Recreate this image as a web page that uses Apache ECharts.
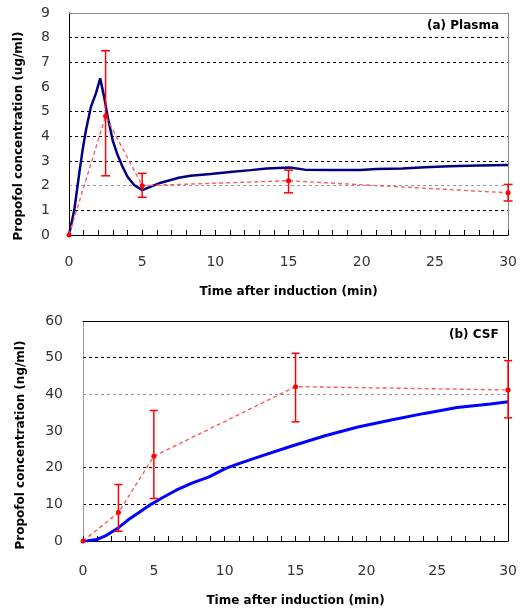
<!DOCTYPE html>
<html>
<head>
<meta charset="utf-8">
<script src="https://cdn.jsdelivr.net/npm/echarts@6/dist/echarts.min.js"></script>
<style>
html,body{margin:0;padding:0;background:#fff;}
#chart{width:520px;height:609px;}
</style>
</head>
<body>
<div id="chart"></div>
<script>
// ---- Data ----
var xTicks = [0, 5, 10, 15, 20, 25, 30];
var plasmaYTicks = [0,1,2,3,4,5,6,7,8,9];
var csfYTicks = [0,10,20,30,40,50,60];

var obsTime = [0, 2.5, 5, 15, 30];
var plasmaMean = [0, 4.82, 2.0, 2.2, 1.71];
var plasmaLow  = [null, 2.40, 1.53, 1.71, 1.38];
var plasmaHigh = [null, 7.47, 2.50, 2.63, 2.05];

var plasmaModelTime = [0, 0.36, 0.7, 0.93, 1.16, 1.5, 1.84, 2.13, 2.4, 2.64, 2.98, 3.32, 3.66, 4.0, 4.45, 5.0, 5.6, 6.27, 6.95, 7.5, 8.3, 9.67, 11.0, 12.4, 13.5, 15.1, 16.1, 18, 19.9, 21, 22.8, 24.3, 26, 28, 30];
var plasmaModel = [0, 1.01, 2.5, 3.45, 4.26, 5.2, 5.74, 6.35, 5.6, 4.8, 3.85, 3.24, 2.77, 2.36, 2.03, 1.82, 1.96, 2.12, 2.23, 2.32, 2.4, 2.47, 2.55, 2.63, 2.7, 2.74, 2.65, 2.64, 2.64, 2.68, 2.7, 2.75, 2.79, 2.82, 2.84];

var csfMean = [0, 7.75, 23.1, 42.1, 41.2];
var csfLow  = [null, 2.65, 11.6, 32.5, 33.6];
var csfHigh = [null, 15.4, 35.6, 51.2, 49.2];

var csfModelTime = [0, 0.26, 0.96, 1.66, 2.48, 3.3, 4.0, 4.8, 5.63, 6.57, 7.73, 8.9, 10.07, 11.0, 12.4, 14.74, 17.08, 19.4, 21.75, 24.1, 26.4, 28.76, 30];
var csfModel = [0, 0, 0.4, 1.55, 3.57, 6.1, 7.9, 10.0, 11.85, 13.85, 15.85, 17.5, 19.8, 21.1, 22.95, 25.9, 28.7, 31.1, 33.0, 34.8, 36.4, 37.35, 38.0];

// ---- Build ----
function pairs(xs, ys){ var o=[]; for(var i=0;i<xs.length;i++) o.push([xs[i], ys[i]]); return o; }
function errData(xs, lo, hi){ var o=[]; for(var i=0;i<xs.length;i++){ if(lo[i]!=null) o.push([xs[i], lo[i], hi[i]]); } return o; }
function errRender(capW){
  return function(params, api){
    var x = api.value(0), lo = api.value(1), hi = api.value(2);
    var a = api.coord([x, lo]), b = api.coord([x, hi]);
    var st = {stroke:'#ff0000', lineWidth:1.5};
    return {type:'group', children:[
      {type:'line', shape:{x1:a[0], y1:a[1], x2:b[0], y2:b[1]}, style:st},
      {type:'line', shape:{x1:a[0]-capW, y1:a[1], x2:a[0]+capW, y2:a[1]}, style:st},
      {type:'line', shape:{x1:b[0]-capW, y1:b[1], x2:b[0]+capW, y2:b[1]}, style:st}
    ]};
  };
}

var FONT = 'DejaVu Sans';
var nameStyle = {fontFamily: FONT, fontSize: 12, fontWeight: 'bold', color: '#000'};

function mainX(gi, margin, gap){
  return {
    type:'value', gridIndex: gi, min: xTicks[0], max: xTicks[xTicks.length-1], interval: 5,
    name: 'Time after induction (min)', nameLocation: 'middle', nameGap: gap, nameTextStyle: nameStyle,
    axisLine: {show:true, onZero:false, lineStyle:{color:'#000', width:1}},
    axisTick: {show:true, inside:true, length:5, lineStyle:{color:'#000', width:1}},
    minorTick: {show:true, splitNumber:5, length:5, lineStyle:{color:'#000', width:1}},
    axisLabel: {margin: margin, fontFamily: FONT, fontSize:14, color:'#333'},
    splitLine: {show:false}
  };
}

var chart = echarts.init(document.getElementById('chart'), null, {renderer:'canvas'});
var option = {
  animation: false,
  backgroundColor: '#fff',
  grid: [
    {left: 69, top: 13, width: 441, height: 222},
    {left: 83, top: 321, width: 428, height: 220}
  ],
  xAxis: [
    mainX(0, 20, 51),
    mainX(1, 23, 54),
    {type:'value', gridIndex:0, position:'top', min:0, max:1, axisLine:{show:true, onZero:false, lineStyle:{color:'#888'}}, axisTick:{show:false}, axisLabel:{show:false}, splitLine:{show:false}},
    {type:'value', gridIndex:1, position:'top', min:0, max:1, axisLine:{show:true, onZero:false, lineStyle:{color:'#000'}}, axisTick:{show:false}, axisLabel:{show:false}, splitLine:{show:false}}
  ],
  yAxis: [
    {type:'value', gridIndex:0, min: plasmaYTicks[0], max: plasmaYTicks[plasmaYTicks.length-1], interval:1,
     name:'Propofol concentration (ug/ml)', nameLocation:'middle', nameGap:44, nameRotate:90,
     nameTextStyle: Object.assign({padding:[0,24,0,0]}, nameStyle),
     axisLine:{show:true, onZero:false, lineStyle:{color:'#000'}}, axisTick:{show:false},
     axisLabel:{margin:19, fontFamily:FONT, fontSize:14, color:'#333'},
     splitLine:{show:true, lineStyle:{type:[3,3], width:1,
       color:['rgba(0,0,0,0)','#000','#999','#000','#000','#000','rgba(0,0,0,0)','#000','#000','rgba(0,0,0,0)']}}},
    {type:'value', gridIndex:1, min: csfYTicks[0], max: csfYTicks[csfYTicks.length-1], interval:10,
     name:'Propofol concentration (ng/ml)', nameLocation:'middle', nameGap:56, nameRotate:90,
     nameTextStyle: Object.assign({padding:[0,28,0,0]}, nameStyle),
     axisLine:{show:true, onZero:false, lineStyle:{color:'#888', type:[1,1]}}, axisTick:{show:false},
     axisLabel:{margin:20, fontFamily:FONT, fontSize:14, color:'#333'},
     splitLine:{show:true, lineStyle:{type:[3,3], width:1,
       color:['rgba(0,0,0,0)','#000','#000','rgba(0,0,0,0)','#999','#000','rgba(0,0,0,0)']}}},
    {type:'value', gridIndex:0, position:'right', min:0, max:1, axisLine:{show:true, onZero:false, lineStyle:{color:'#888'}}, axisTick:{show:false}, axisLabel:{show:false}, splitLine:{show:false}},
    {type:'value', gridIndex:1, position:'right', min:0, max:1, axisLine:{show:true, onZero:false, lineStyle:{color:'#000'}}, axisTick:{show:false}, axisLabel:{show:false}, splitLine:{show:false}}
  ],
  graphic: [
    {type:'text', left: 427, top: 20, style:{text:'(a) Plasma', font:'bold 12px "DejaVu Sans"', fill:'#000'}},
    {type:'text', left: 449, top: 329, style:{text:'(b) CSF', font:'bold 12px "DejaVu Sans"', fill:'#000'}}
  ],
  series: [
    {type:'line', name:'Plasma predicted', xAxisIndex:0, yAxisIndex:0, data: pairs(plasmaModelTime, plasmaModel),
     showSymbol:false, symbol:'none', lineStyle:{color:'#000080', width:2.5}, z:3},
    {type:'line', name:'Plasma observed', xAxisIndex:0, yAxisIndex:0, data: pairs(obsTime, plasmaMean),
     symbol:'circle', symbolSize:5, itemStyle:{color:'#ff0000'}, lineStyle:{color:'#ff5a5a', width:1.4, type:[4,3]}, z:4, clip:false},
    {type:'custom', name:'Plasma SD', xAxisIndex:0, yAxisIndex:0, data: errData(obsTime, plasmaLow, plasmaHigh),
     encode:{x:0, y:[1,2]}, renderItem: errRender(4.5), z:5, clip:false},
    {type:'line', name:'CSF predicted', xAxisIndex:1, yAxisIndex:1, data: pairs(csfModelTime, csfModel),
     showSymbol:false, symbol:'none', lineStyle:{color:'#0000ff', width:3}, z:3},
    {type:'line', name:'CSF observed', xAxisIndex:1, yAxisIndex:1, data: pairs(obsTime, csfMean),
     symbol:'circle', symbolSize:5, itemStyle:{color:'#ff0000'}, lineStyle:{color:'#ff5a5a', width:1.4, type:[4,3]}, z:4, clip:false},
    {type:'custom', name:'CSF SD', xAxisIndex:1, yAxisIndex:1, data: errData(obsTime, csfLow, csfHigh),
     encode:{x:0, y:[1,2]}, renderItem: errRender(4), z:5, clip:false}
  ]
};
chart.setOption(option);
</script>
</body>
</html>
